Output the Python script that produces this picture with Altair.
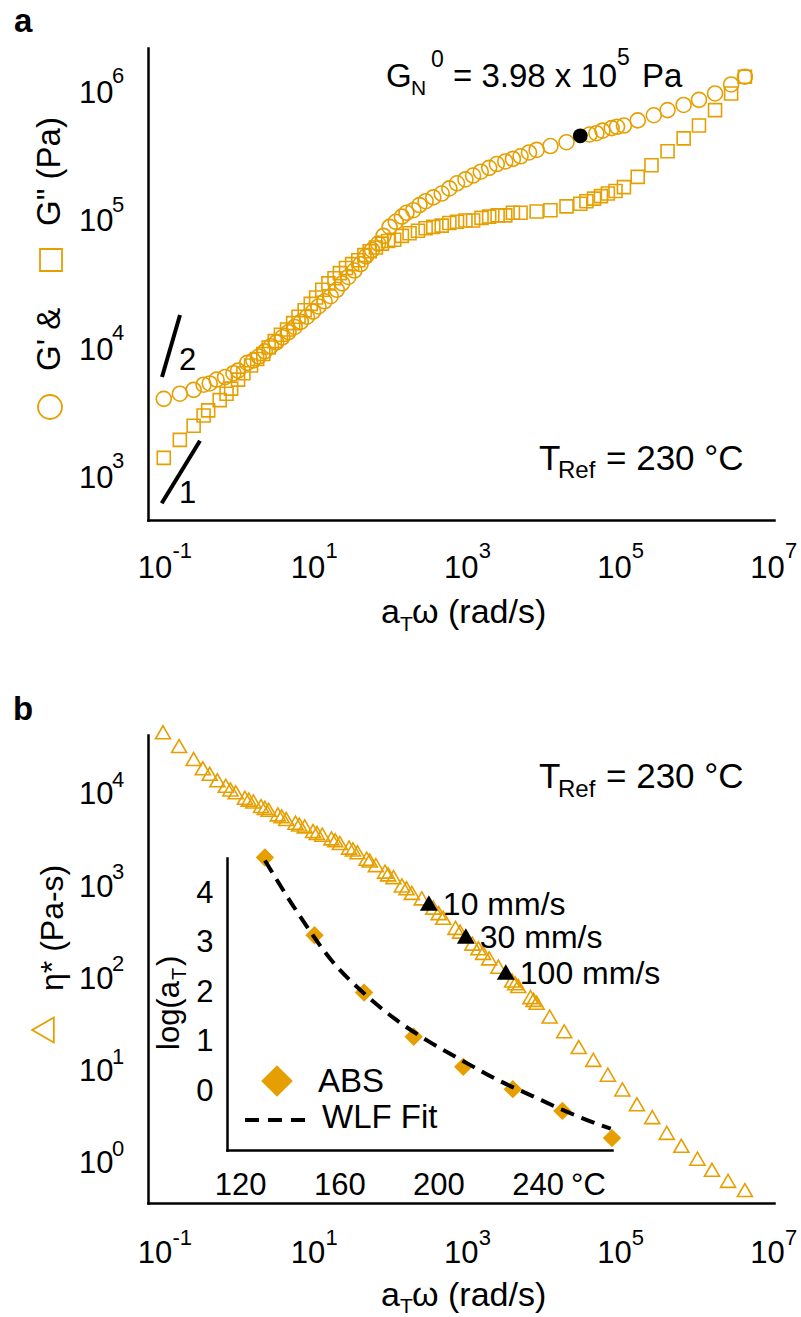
import altair as alt
import pandas as pd

ORANGE = "#E69F00"
FONT = "Liberation Sans"

# ---------------- Panel a: G' (circles) and G'' (squares); log10 values
gp_logw = [-0.97, -0.76, -0.58, -0.45, -0.37, -0.28, -0.17, -0.06, 0.0, 0.12, 0.20, 0.27, 0.35, 0.43,
           0.50, 0.58, 0.66, 0.74, 0.82, 0.90, 0.98, 1.05, 1.13, 1.21, 1.29, 1.36, 1.44, 1.52, 1.60,
           1.67, 1.75, 1.83, 1.90, 1.98, 2.06, 2.14, 2.20, 2.29, 2.37, 2.45, 2.55, 2.66, 2.76, 2.86,
           2.97, 3.07, 3.17, 3.28, 3.38, 3.49, 3.59, 3.69, 3.80, 3.90, 4.08, 4.29, 4.59, 4.68, 4.76,
           4.88, 4.95, 5.04, 5.22, 5.43, 5.61, 5.82, 6.02, 6.23, 6.44, 6.62]
gp_logG = [3.55, 3.59, 3.62, 3.66, 3.67, 3.70, 3.72, 3.75, 3.77, 3.83, 3.85, 3.88, 3.92, 3.96,
           3.99, 4.03, 4.07, 4.11, 4.15, 4.19, 4.23, 4.27, 4.31, 4.35, 4.40, 4.45, 4.50, 4.55, 4.60,
           4.66, 4.71, 4.76, 4.82, 4.89, 4.93, 4.97, 5.00, 5.02, 5.06, 5.09, 5.12, 5.15, 5.19, 5.23,
           5.26, 5.29, 5.32, 5.35, 5.38, 5.40, 5.42, 5.44, 5.47, 5.49, 5.52, 5.55, 5.61, 5.62, 5.64,
           5.66, 5.67, 5.68, 5.72, 5.76, 5.80, 5.84, 5.88, 5.93, 6.00, 6.06]
gpp_logw = [-0.97, -0.76, -0.58, -0.45, -0.39, -0.24, -0.15, -0.09, 0.0, 0.07, 0.17, 0.25, 0.33, 0.40,
            0.48, 0.56, 0.64, 0.72, 0.79, 0.87, 0.95, 1.02, 1.10, 1.18, 1.26, 1.33, 1.41, 1.49, 1.57,
            1.65, 1.72, 1.80, 1.88, 1.96, 2.04, 2.14, 2.24, 2.35, 2.45, 2.55, 2.66, 2.76, 2.86, 2.97,
            3.07, 3.18, 3.28, 3.39, 3.49, 3.59, 3.69, 3.90, 4.08, 4.29, 4.47, 4.55, 4.65, 4.74, 4.83,
            4.93, 5.04, 5.22, 5.40, 5.61, 5.82, 6.02, 6.23, 6.44, 6.62]
gpp_logG = [3.09, 3.23, 3.34, 3.42, 3.46, 3.54, 3.59, 3.63, 3.70, 3.75, 3.81, 3.86, 3.90, 3.95,
            4.00, 4.05, 4.09, 4.14, 4.19, 4.24, 4.29, 4.34, 4.40, 4.45, 4.49, 4.53, 4.57, 4.60, 4.63,
            4.67, 4.70, 4.73, 4.76, 4.78, 4.79, 4.82, 4.84, 4.86, 4.88, 4.89, 4.90, 4.92, 4.93, 4.94,
            4.94, 4.96, 4.97, 4.98, 4.98, 5.00, 5.00, 5.01, 5.02, 5.05, 5.07, 5.09, 5.11, 5.13, 5.15,
            5.17, 5.20, 5.28, 5.37, 5.48, 5.58, 5.68, 5.80, 5.93, 6.06]
gn_logw = [4.47]
gn_G = [3.98e5]
slope_seg = ["2", "2", "1", "1"]
slope_logw = [-0.993, -0.758, -0.997, -0.497]
slope_logG = [3.720, 4.203, 2.736, 3.224]

# ---------------- Panel b: complex viscosity (triangles)
eta_logw = [-0.98, -0.77, -0.58, -0.46, -0.37, -0.27, -0.16, -0.10, -0.03, 0.09, 0.14, 0.20, 0.30,
            0.35, 0.40, 0.52, 0.57, 0.63, 0.75, 0.80, 0.87, 0.98, 1.03, 1.10, 1.22, 1.27, 1.33, 1.45,
            1.50, 1.56, 1.68, 1.72, 1.80, 1.92, 1.96, 2.03, 2.14, 2.20, 2.27, 2.40, 2.55, 2.62, 2.68,
            2.84, 2.90, 3.06, 3.14, 3.20, 3.28, 3.40, 3.58, 3.62, 3.66, 3.82, 3.86, 3.90, 4.07, 4.26,
            4.45, 4.64, 4.83, 5.02, 5.21, 5.41, 5.60, 5.79, 6.00, 6.19, 6.40, 6.62]
eta_log = [4.59, 4.44, 4.30, 4.20, 4.14, 4.07, 4.01, 3.97, 3.94, 3.88, 3.86, 3.84, 3.79,
           3.77, 3.75, 3.70, 3.68, 3.65, 3.61, 3.59, 3.57, 3.52, 3.50, 3.48, 3.44, 3.42, 3.39, 3.34,
           3.32, 3.29, 3.22, 3.20, 3.15, 3.08, 3.05, 3.02, 2.93, 2.90, 2.85, 2.79, 2.69, 2.63, 2.58,
           2.47, 2.43, 2.30, 2.25, 2.20, 2.14, 2.05, 1.90, 1.87, 1.84, 1.72, 1.69, 1.66, 1.51, 1.35,
           1.18, 1.04, 0.88, 0.72, 0.56, 0.42, 0.25, 0.11, -0.03, -0.15, -0.27, -0.37]
speed_labels = ["10 mm/s", "30 mm/s", "100 mm/s"]
speed_logw = [2.492, 2.975, 3.497]
speed_logeta = [2.740, 2.382, 1.992]

# ---------------- Inset: shift factors
abs_T = [130, 150, 170, 190, 210, 230, 250, 270]
abs_logaT = [4.68, 3.11, 1.95, 1.06, 0.45, 0.00, -0.44, -0.99]
wlf_T = [130, 143.4, 156.9, 170.3, 183.8, 197.2, 210.6, 224.1, 237.5, 251.0, 264.4, 269.5]
wlf_logaT = [4.62, 3.55, 2.60, 1.92, 1.37, 0.93, 0.55, 0.18, -0.13, -0.44, -0.71, -0.80]

# ---------------- ticks
x_tick_vals = [0.1, 10, 1e3, 1e5, 1e7]
x_tick_exps = ["-1", "1", "3", "5", "7"]
ya_tick_vals = [1e3, 1e4, 1e5, 1e6]
ya_tick_exps = ["3", "4", "5", "6"]
yb_tick_vals = [1, 10, 100, 1e3, 1e4]
yb_tick_exps = ["0", "1", "2", "3", "4"]
inset_x_ticks = [120, 160, 200, 240]
inset_y_ticks = [0, 1, 2, 3, 4]


def logdf(lw, lg, **extra):
    d = {"w": [10.0 ** v for v in lw], "g": [10.0 ** v for v in lg]}
    d.update(extra)
    return pd.DataFrame(d)


df_gp = logdf(gp_logw, gp_logG)
df_gpp = logdf(gpp_logw, gpp_logG)
df_gn = pd.DataFrame({"w": [10.0 ** v for v in gn_logw], "g": gn_G})
df_slope = logdf(slope_logw, slope_logG, seg=slope_seg)
df_eta = logdf(eta_logw, eta_log)
df_speed = logdf(speed_logw, speed_logeta, t=speed_labels)
df_abs = pd.DataFrame({"T": abs_T, "a": abs_logaT})
df_wlf = pd.DataFrame({"T": wlf_T, "a": wlf_logaT})
df_xexp = pd.DataFrame({"w": x_tick_vals, "e": x_tick_exps})
df_yaexp = pd.DataFrame({"g": ya_tick_vals, "e": ya_tick_exps})
df_ybexp = pd.DataFrame({"g": yb_tick_vals, "e": yb_tick_exps})
ONE = pd.DataFrame({"k": [0]})

WA, HA, HB = 626, 472, 468

XS = alt.Scale(type="log", domain=[10 ** -1.176, 1e7], nice=False)
YA = alt.Scale(type="log", domain=[10 ** 2.606, 10 ** 6.284], nice=False)
YB = alt.Scale(type="log", domain=[10 ** -0.510, 10 ** 4.560], nice=False)
IXS = alt.Scale(domain=[114.7, 270], range=[79, 464], nice=False, zero=False)
IYS = alt.Scale(domain=[-1.23, 4.67], range=[415, 123], nice=False, zero=False)

common_axis = dict(ticks=False, grid=False, domainColor="black", domainWidth=2.5, domainCap="square",
                   labelFont=FONT, labelFontSize=31, labelColor="black", labelFlush=False,
                   labelOverlap=False, title=None)


def x_axis(pad):
    return alt.Axis(values=x_tick_vals, labelExpr="'10'", labelPadding=pad, labelOffset=-7, **common_axis)


def y_axis(vals, pad, dy):
    return alt.Axis(values=vals, labelExpr="'10'", labelPadding=pad, labelOffset=dy, **common_axis)


def txt(s, x, y, size, angle=None, color="black", weight="normal"):
    kw = dict(text=s, font=FONT, fontSize=size, color=color, fontWeight=weight,
              align="left", baseline="alphabetic")
    if angle is not None:
        kw["angle"] = angle
    return alt.Chart(ONE).mark_text(**kw).encode(x=alt.value(x), y=alt.value(y))


def sym(shape, x, y, size, filled=False, color=ORANGE, sw=1.8):
    return alt.Chart(ONE).mark_point(shape=shape, filled=filled, color=color, size=size,
                                     strokeWidth=sw, opacity=1).encode(x=alt.value(x), y=alt.value(y))


# ================= Panel a
xA = alt.X("w:Q", scale=XS, axis=x_axis(33))
yA = alt.Y("g:Q", scale=YA, axis=y_axis(ya_tick_vals, 35, 9))

layers_a = [
    alt.Chart(ONE).mark_point(filled=True, size=1, opacity=0).encode(x=alt.value(-147.5), y=alt.value(-47.5)),
    alt.Chart(df_gpp).mark_point(shape="square", filled=False, color=ORANGE, size=169, strokeWidth=1.6,
                                 opacity=1).encode(x=xA, y=yA),
    alt.Chart(df_gp).mark_point(shape="circle", filled=False, color=ORANGE, size=225, strokeWidth=1.6,
                                opacity=1).encode(x=xA, y=yA),
    alt.Chart(df_gn).mark_point(shape="circle", filled=True, color="black", size=220,
                                opacity=1).encode(x=xA, y=yA),
    alt.Chart(df_slope).mark_line(color="black", strokeWidth=4).encode(x=xA, y=yA, detail="seg:N"),
    alt.Chart(df_xexp).mark_text(align="left", baseline="top", font=FONT, fontSize=22, dx=11,
                                 color="black").encode(x=xA, y=alt.value(HA + 21), text="e:N"),
    alt.Chart(df_yaexp).mark_text(align="left", baseline="middle", font=FONT, fontSize=22, dy=-8,
                                  color="black").encode(x=alt.value(-36), y=yA, text="e:N"),
    txt("a", -134, -16, 33, weight="bold"),
    txt("G", 238, 39, 33), txt("N", 263, 47, 21), txt("0", 283, 19, 23),
    txt("= 3.98 x 10", 305, 39, 33), txt("5", 469, 17, 23), txt("Pa", 494, 39, 33),
    txt("T", 391, 422, 35), txt("Ref", 410, 430, 24), txt("= 230 °C", 458, 422, 35),
    txt("2", 31, 322, 31), txt("1", 31, 455, 31),
    txt("a", 233, 575, 34), txt("T", 252, 583, 21), txt("ω (rad/s)", 264, 575, 34),
    sym("circle", -98, 359, 576),
    txt("G' &", -88, 323, 33, angle=270),
    sym("square", -97, 212, 484),
    txt('G" (Pa)', -88, 178, 33, angle=270),
]
panel_a = alt.layer(*layers_a).properties(width=WA, height=HA)

# ================= Panel b
xB = alt.X("w:Q", scale=XS, axis=x_axis(35))
yB = alt.Y("g:Q", scale=YB, axis=y_axis(yb_tick_vals, 35, 8))

main_b = [
    alt.Chart(df_eta).mark_point(shape="triangle-up", filled=False, color=ORANGE, size=225,
                                 strokeWidth=1.6, opacity=1).encode(x=xB, y=yB),
    alt.Chart(df_speed).mark_point(shape="triangle-up", filled=True, color="black", size=320,
                                   opacity=1).encode(x=xB, y=yB),
    alt.Chart(df_speed).mark_text(align="left", baseline="middle", font=FONT, fontSize=32, dx=14, dy=2,
                                  color="black").encode(x=xB, y=yB, text="t:N"),
    alt.Chart(df_xexp).mark_text(align="left", baseline="top", font=FONT, fontSize=22, dx=11,
                                 color="black").encode(x=xB, y=alt.value(HB + 25), text="e:N"),
    alt.Chart(df_ybexp).mark_text(align="left", baseline="middle", font=FONT, fontSize=22, dy=-7,
                                  color="black").encode(x=alt.value(-36), y=yB, text="e:N"),
    txt("b", -135, -15, 33, weight="bold"),
    txt("T", 391, 53, 35), txt("Ref", 410, 62, 24), txt("= 230 °C", 458, 53, 35),
    txt("a", 233, 571, 34), txt("T", 252, 578, 21), txt("ω (rad/s)", 264, 571, 34),
    sym("triangle-left", -105, 295, 625),
    txt("η* (Pa-s)", -85, 256, 32, angle=270),
]

ix_axis = alt.Axis(values=inset_x_ticks, orient="bottom", offset=-53, labelPadding=20, **common_axis)
iy_axis = alt.Axis(values=inset_y_ticks, orient="left", offset=-79, labelPadding=14, labelOffset=2, **common_axis)
xI = alt.X("T:Q", scale=IXS, axis=ix_axis)
yI = alt.Y("a:Q", scale=IYS, axis=iy_axis)

inset = [
    alt.Chart(df_abs).mark_point(shape="diamond", filled=True, color=ORANGE, size=340,
                                 opacity=1).encode(x=xI, y=yI),
    alt.Chart(df_wlf).mark_line(color="black", strokeWidth=4, strokeDash=[14, 8],
                                interpolate="monotone").encode(x=xI, y=yI),
    sym("diamond", 129, 346, 1000, filled=True),
    txt("ABS", 170, 357, 33),
    alt.Chart(ONE).mark_rule(color="black", strokeWidth=4, strokeDash=[14, 9]).encode(
        x=alt.value(97), x2=alt.value(159), y=alt.value(385)),
    txt("WLF Fit", 174, 393, 33),
    txt("°C", 423, 460, 31),
    txt("log(a", 31, 315, 31, angle=270), txt("T", 38, 245, 20, angle=270), txt(")", 31, 231, 31, angle=270),
]

panel_b = alt.layer(alt.layer(*main_b), alt.layer(*inset)).resolve_scale(
    x="independent", y="independent").properties(width=WA, height=HB)

chart = alt.vconcat(panel_a, panel_b, spacing=215, bounds="flush").properties(
    padding=0).configure(font=FONT).configure_view(stroke="transparent", strokeWidth=0)

chart.save("out.html", embed_options={"renderer": "svg", "actions": False})
